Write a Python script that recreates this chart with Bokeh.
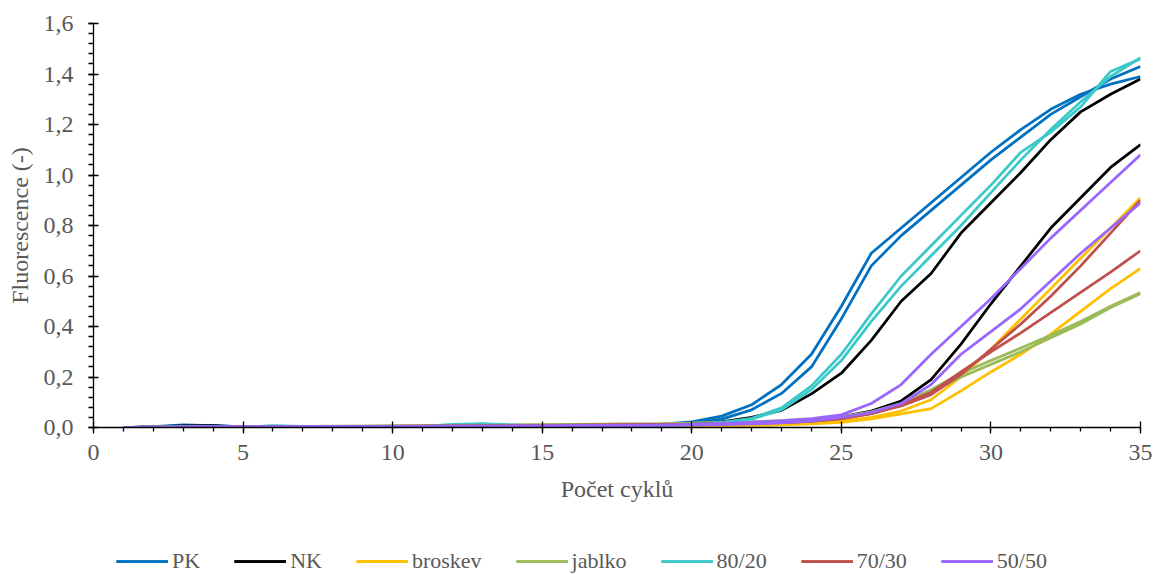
from bokeh.plotting import figure
from bokeh.layouts import column
from bokeh.models import (Range1d, SingleIntervalTicker, CustomJSTickFormatter,
                          Legend, LegendItem)
from bokeh.embed import file_html
from bokeh.resources import INLINE

cycles = list(range(1, 36))

pk_1 = [0.000, 0.003, 0.010, 0.007, 0.002, 0.001, 0.002, 0.003, 0.003, 0.003,
        0.004, 0.004, 0.005, 0.005, 0.006, 0.007, 0.008, 0.010, 0.013, 0.022,
        0.045, 0.090, 0.170, 0.290, 0.480, 0.690, 0.790, 0.890, 0.990, 1.090,
        1.180, 1.260, 1.320, 1.360, 1.390]
pk_2 = [0.000, 0.002, 0.007, 0.008, 0.002, 0.001, 0.002, 0.002, 0.003, 0.003,
        0.003, 0.004, 0.004, 0.005, 0.006, 0.006, 0.007, 0.009, 0.011, 0.017,
        0.033, 0.070, 0.135, 0.240, 0.430, 0.640, 0.760, 0.860, 0.960, 1.060,
        1.150, 1.240, 1.310, 1.380, 1.430]
nk_1 = [0.000, 0.002, 0.006, 0.006, 0.001, 0.000, 0.002, 0.003, 0.003, 0.003,
        0.003, 0.004, 0.004, 0.004, 0.005, 0.006, 0.007, 0.008, 0.009, 0.012,
        0.022, 0.040, 0.068, 0.133, 0.215, 0.345, 0.500, 0.610, 0.770, 0.890,
        1.010, 1.140, 1.250, 1.320, 1.380]
nk_2 = [0.000, 0.001, 0.004, 0.005, 0.002, 0.000, 0.001, 0.002, 0.002, 0.002,
        0.003, 0.003, 0.003, 0.003, 0.004, 0.004, 0.005, 0.005, 0.005, 0.006,
        0.008, 0.012, 0.018, 0.028, 0.042, 0.065, 0.105, 0.190, 0.330, 0.490,
        0.640, 0.790, 0.910, 1.030, 1.120]
broskev_1 = [0.000, 0.000, 0.001, 0.001, 0.001, 0.001, 0.002, 0.002, 0.002, 0.003,
             0.003, 0.003, 0.004, 0.004, 0.005, 0.005, 0.006, 0.006, 0.006, 0.007,
             0.008, 0.010, 0.013, 0.018, 0.025, 0.040, 0.065, 0.110, 0.200, 0.310,
             0.430, 0.550, 0.670, 0.790, 0.910]
broskev_2 = [0.000, 0.000, 0.000, 0.001, 0.001, 0.001, 0.001, 0.002, 0.002, 0.002,
             0.002, 0.003, 0.003, 0.003, 0.004, 0.004, 0.004, 0.005, 0.005, 0.006,
             0.007, 0.008, 0.010, 0.014, 0.020, 0.034, 0.054, 0.075, 0.145, 0.220,
             0.290, 0.370, 0.460, 0.550, 0.630]
jablko_1 = [0.000, 0.001, 0.002, 0.002, 0.002, 0.003, 0.004, 0.005, 0.005, 0.006,
            0.007, 0.008, 0.009, 0.010, 0.011, 0.012, 0.013, 0.014, 0.015, 0.017,
            0.020, 0.023, 0.027, 0.032, 0.042, 0.062, 0.095, 0.150, 0.215, 0.265,
            0.315, 0.365, 0.420, 0.480, 0.535]
jablko_2 = [0.000, 0.001, 0.001, 0.002, 0.002, 0.003, 0.003, 0.004, 0.005, 0.005,
            0.006, 0.007, 0.008, 0.009, 0.010, 0.011, 0.012, 0.013, 0.014, 0.016,
            0.018, 0.021, 0.025, 0.030, 0.040, 0.058, 0.090, 0.140, 0.200, 0.250,
            0.300, 0.355, 0.410, 0.475, 0.530]
mix_80_20_1 = [0.000, 0.002, 0.004, 0.003, 0.002, 0.007, 0.004, 0.002, 0.002, 0.002,
               0.004, 0.012, 0.015, 0.010, 0.005, 0.004, 0.005, 0.006, 0.008, 0.012,
               0.020, 0.036, 0.078, 0.165, 0.290, 0.450, 0.600, 0.720, 0.840, 0.960,
               1.090, 1.170, 1.270, 1.410, 1.460]
mix_80_20_2 = [0.000, 0.001, 0.003, 0.003, 0.002, 0.005, 0.003, 0.002, 0.002, 0.002,
               0.003, 0.010, 0.013, 0.008, 0.004, 0.003, 0.004, 0.005, 0.007, 0.011,
               0.018, 0.033, 0.070, 0.150, 0.265, 0.420, 0.560, 0.680, 0.800, 0.930,
               1.060, 1.180, 1.290, 1.390, 1.465]
mix_70_30_1 = [0.000, 0.001, 0.002, 0.002, 0.002, 0.003, 0.003, 0.004, 0.004, 0.005,
               0.005, 0.006, 0.006, 0.007, 0.008, 0.009, 0.010, 0.011, 0.012, 0.013,
               0.015, 0.017, 0.020, 0.025, 0.035, 0.055, 0.085, 0.130, 0.210, 0.310,
               0.410, 0.520, 0.640, 0.770, 0.900]
mix_70_30_2 = [0.000, 0.001, 0.001, 0.002, 0.002, 0.002, 0.003, 0.003, 0.004, 0.004,
               0.005, 0.005, 0.006, 0.006, 0.007, 0.008, 0.009, 0.010, 0.011, 0.012,
               0.014, 0.016, 0.019, 0.024, 0.035, 0.055, 0.090, 0.140, 0.220, 0.300,
               0.375, 0.455, 0.535, 0.615, 0.700]
mix_50_50_1 = [0.000, 0.001, 0.002, 0.002, 0.002, 0.002, 0.003, 0.003, 0.003, 0.004,
               0.004, 0.005, 0.005, 0.006, 0.006, 0.007, 0.008, 0.009, 0.010, 0.012,
               0.016, 0.020, 0.027, 0.035, 0.050, 0.095, 0.170, 0.290, 0.400, 0.510,
               0.630, 0.750, 0.860, 0.970, 1.080]
mix_50_50_2 = [0.000, 0.000, 0.001, 0.001, 0.001, 0.002, 0.002, 0.002, 0.003, 0.003,
               0.003, 0.004, 0.004, 0.005, 0.005, 0.006, 0.006, 0.007, 0.008, 0.009,
               0.011, 0.014, 0.018, 0.025, 0.040, 0.060, 0.095, 0.170, 0.290, 0.380,
               0.470, 0.580, 0.690, 0.790, 0.890]

series_names = ["PK", "NK", "broskev", "jablko", "80/20", "70/30", "50/50"]
series_values = [
    (pk_1, pk_2), (nk_1, nk_2), (broskev_1, broskev_2), (jablko_1, jablko_2),
    (mix_80_20_1, mix_80_20_2), (mix_70_30_1, mix_70_30_2), (mix_50_50_1, mix_50_50_2),
]
series_colors = ["#0070C0", "#000000", "#FFC000", "#9BBB59", "#3CC8C8", "#C0504D", "#9966FF"]

FONT = "Liberation Serif"
GREY = "#595959"
LW = 2.75

# ---- main chart ----
p = figure(width=1154, height=514, output_backend="svg", toolbar_location=None,
           x_range=Range1d(0, 35), y_range=Range1d(0, 1.6),
           min_border_left=93, min_border_right=14, min_border_top=23,
           min_border_bottom=87)
p.outline_line_color = None
p.xgrid.visible = False
p.ygrid.visible = False
p.background_fill_color = "white"
p.border_fill_color = "white"

for (a, b), col in zip(series_values, series_colors):
    p.line(cycles, a, line_color=col, line_width=LW)
    p.line(cycles, b, line_color=col, line_width=LW)

xax = p.xaxis[0]
xax.ticker = SingleIntervalTicker(interval=5, num_minor_ticks=5)
xax.major_tick_in = 6
xax.major_tick_out = 6
xax.minor_tick_in = 0
xax.minor_tick_out = 4
xax.axis_label = "Počet cyklů"
xax.major_label_standoff = 11
xax.axis_label_standoff = 13

yax = p.yaxis[0]
yax.ticker = SingleIntervalTicker(interval=0.2, num_minor_ticks=5)
yax.formatter = CustomJSTickFormatter(code="return tick.toFixed(1).replace('.', ',');")
yax.major_tick_in = 5
yax.major_tick_out = 5
yax.minor_tick_in = 0
yax.minor_tick_out = 5
yax.axis_label = "Fluorescence (-)"
yax.major_label_standoff = 15
yax.axis_label_standoff = 8

for ax in (xax, yax):
    ax.axis_line_color = "black"
    ax.axis_line_width = 1.3
    ax.major_tick_line_color = "black"
    ax.minor_tick_line_color = "black"
    ax.major_tick_line_width = 1.3
    ax.minor_tick_line_width = 1.3
    ax.major_label_text_font = FONT
    ax.major_label_text_font_size = "24px"
    ax.major_label_text_color = GREY
    ax.axis_label_text_font = FONT
    ax.axis_label_text_font_size = "24px"
    ax.axis_label_text_color = GREY
    ax.axis_label_text_font_style = "normal"

# ---- legend strip (same series, drawn outside its visible range) ----
lg = figure(width=1154, height=60, output_backend="svg", toolbar_location=None,
            x_range=Range1d(-20, -10), y_range=Range1d(0, 1.6),
            x_axis_location=None, y_axis_location=None,
            min_border_left=0, min_border_right=0, min_border_top=0,
            min_border_bottom=0)
lg.outline_line_color = None
lg.xgrid.visible = False
lg.ygrid.visible = False
lg.background_fill_color = "white"
lg.border_fill_color = "white"

items = []
for name, (a, b), col in zip(series_names, series_values, series_colors):
    r1 = lg.line(cycles, a, line_color=col, line_width=LW)
    r2 = lg.line(cycles, b, line_color=col, line_width=LW)
    items.append(LegendItem(label=name, renderers=[r1, r2]))

legend = Legend(items=items, orientation="horizontal", location=(23, 0),
                glyph_width=52, glyph_height=20, label_standoff=4, spacing=34,
                padding=0, margin=0, border_line_color=None,
                background_fill_alpha=0,
                label_text_font=FONT, label_text_font_size="22px",
                label_text_color=GREY)
lg.add_layout(legend, "center")

layout = column(p, lg, spacing=0)
open("out.html", "w").write(file_html(layout, INLINE))
